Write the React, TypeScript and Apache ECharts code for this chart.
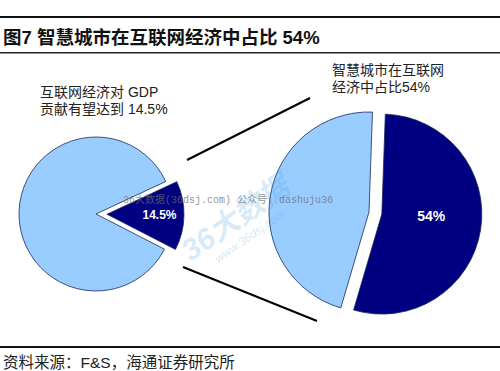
import React, { useEffect, useRef } from "react";
import * as echarts from "echarts";

const titleText = "图7 智慧城市在互联网经济中占比 54%";
const sourceText = "资料来源：F&S，海通证券研究所";
const leftNote = ["互联网经济对 GDP", "贡献有望达到 14.5%"];
const rightNote = ["智慧城市在互联网", "经济中占比54%"];
const leftNames = ["互联网经济", "其他经济"];
const leftValues = [14.5, 85.5];
const rightNames = ["智慧城市", "其他"];
const rightValues = [54, 46];
const watermarkText = "36大数据(36dsj.com) 公众号: dashuju36";
const logoText = "36大数据";
const logoUrl = "www.36dsj.com";

const DARK = "#000080";
const LIGHT = "#99CCFF";
const EDGE = "#1c2a55";
const CJK = "'Liberation Sans', 'Noto Sans CJK SC', sans-serif";

function txt(text: string, x: number, y: number, font: string, fill: string, extra: any = {}) {
  return {
    type: "text",
    x,
    y,
    z: 50,
    ...extra,
    style: {
      text,
      font,
      fill,
      textAlign: "left",
      textVerticalAlign: "middle",
      align: "left",
      verticalAlign: "middle",
      ...(extra.style || {}),
    },
  };
}

function makePie(
  names: string[],
  values: number[],
  center: number[],
  radius: number,
  startAngle: number,
  offset: number,
  fontSize: number,
  dx: number,
  dy: number
) {
  return {
    type: "pie",
    center,
    radius,
    startAngle,
    clockwise: true,
    selectedMode: "single",
    selectedOffset: offset,
    avoidLabelOverlap: false,
    emphasis: { disabled: true },
    labelLine: { show: false },
    labelLayout: { dx, dy },
    label: {
      show: true,
      position: "inside",
      formatter: "{c}%",
      color: "#ffffff",
      fontWeight: "bold",
      fontSize,
      fontFamily: "'Liberation Sans', Arial, sans-serif",
    },
    itemStyle: { borderColor: EDGE, borderWidth: 0.8 },
    select: { itemStyle: { borderColor: EDGE, borderWidth: 0.8, color: DARK } },
    data: names.map((n, i) => ({
      name: n,
      value: values[i],
      selected: i === 0,
      itemStyle: { color: i === 0 ? DARK : LIGHT },
      label: { show: i === 0 },
    })),
  };
}

export default function App() {
  const ref = useRef<HTMLDivElement>(null);
  useEffect(() => {
    if (!ref.current) return;
    const chart = echarts.init(ref.current, null, { renderer: "svg" });
    const option: any = {
      animation: false,
      backgroundColor: "#ffffff",
      series: [
        makePie(leftNames, leftValues, [96, 214], 77, 25, 11, 12, 11, 0),
        makePie(rightNames, rightValues, [369, 212], 100, 88, 13, 14, -3, -7),
      ],
      graphic: [
        { type: "rect", shape: { x: 0, y: 16, width: 500, height: 2 }, style: { fill: "#111" } },
        { type: "rect", shape: { x: 0, y: 52, width: 500, height: 1.6 }, style: { fill: "#222" } },
        { type: "rect", shape: { x: 0, y: 346, width: 500, height: 2 }, style: { fill: "#111" } },
        txt(titleText, 3, 37, `bold 18.5px ${CJK}`, "#111"),
        txt(leftNote[0], 40, 92, `14px ${CJK}`, "#222"),
        txt(leftNote[1], 40, 109, `14px ${CJK}`, "#222"),
        txt(rightNote[0], 332, 70, `14px ${CJK}`, "#222"),
        txt(rightNote[1], 332, 87, `14px ${CJK}`, "#222"),
        txt(sourceText, 3, 362, `15.5px ${CJK}`, "#222"),
        { type: "line", shape: { x1: 187, y1: 160, x2: 310, y2: 98 }, style: { stroke: "#000", lineWidth: 2 } },
        { type: "line", shape: { x1: 183, y1: 267, x2: 317, y2: 321 }, style: { stroke: "#000", lineWidth: 2 } },
        txt(watermarkText, 123, 200, `10px 'Liberation Mono', 'Noto Sans CJK SC', monospace`, "rgba(110,110,110,0.75)", { z: 60 }),
        {
          type: "text",
          x: 235,
          y: 218,
          rotation: (35 * Math.PI) / 180,
          z: 55,
          style: {
            text: logoText,
            font: `italic bold 30px ${CJK}`,
            fill: "rgba(80,160,225,0.22)",
            textAlign: "center",
            textVerticalAlign: "middle",
            align: "center",
            verticalAlign: "middle",
          },
        },
        {
          type: "text",
          x: 250,
          y: 236,
          rotation: (35 * Math.PI) / 180,
          z: 55,
          style: {
            text: logoUrl,
            font: `italic 12px ${CJK}`,
            fill: "rgba(80,160,225,0.25)",
            textAlign: "center",
            textVerticalAlign: "middle",
            align: "center",
            verticalAlign: "middle",
          },
        },
      ],
    };
    chart.setOption(option);
    return () => chart.dispose();
  }, []);
  return (
    <div style={{ position: "fixed", left: 0, top: 0, width: 500, height: 371, background: "#fff" }}>
      <div ref={ref} style={{ width: 500, height: 371 }} />
    </div>
  );
}
